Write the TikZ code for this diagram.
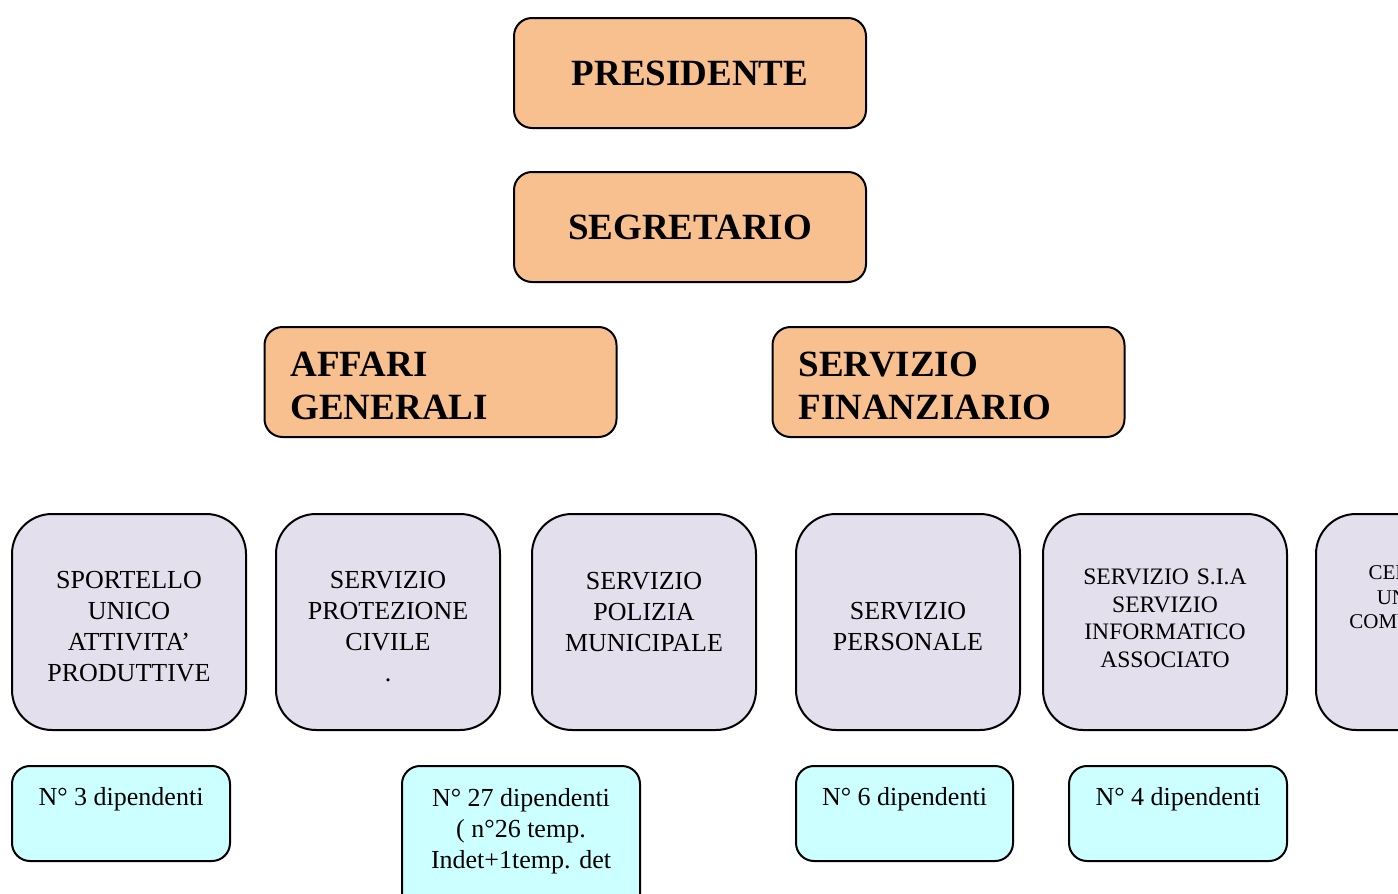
\documentclass[tikz,border=0pt]{standalone}
\usepackage{fontspec}
\setmainfont{Liberation Serif}
\definecolor{peach}{HTML}{F8C08F}
\definecolor{lilla}{HTML}{E4DFEC}
\definecolor{celeste}{HTML}{CCFFFF}
\tikzset{
  capo/.style={draw=black, line width=1pt, fill=peach, rounded corners=9pt,
    minimum width=176pt, minimum height=55pt, align=center,
    font=\fontsize{18.5}{21.5}\selectfont\bfseries},
  area/.style={capo, align=left, text width=150pt, inner xsep=13pt,
    execute at begin node=\rule{0pt}{16.5pt}},
  ufficio/.style={draw=black, line width=1pt, fill=lilla, rounded corners=20pt,
    minimum height=108pt, text width=100pt, align=center,
    font=\fontsize{13}{15.5}\selectfont,
    execute at begin node=\rule{0pt}{13.6pt}},
  conta/.style={draw=black, line width=1pt, fill=celeste, rounded corners=9pt,
    anchor=north, align=center, inner ysep=3pt, text height=16.5pt,
    font=\fontsize{13}{15.5}\selectfont}
}
\begin{document}
\begin{tikzpicture}[x=0.5pt, y=-0.5pt, line join=round]
  \useasboundingbox (0,0) rectangle (1398,894);
  \clip (0,0) rectangle (1398,894);
  % vertici
  \node[capo] (pres) at (690,73) {PRESIDENTE};
  \node[capo] (segr) at (690,227) {SEGRETARIO};
  % aree
  \node[area] (affari) at (440.5,382) {AFFARI\\GENERALI};
  \node[area] (finanz) at (948.5,382) {SERVIZIO\\FINANZIARIO};
  % uffici
  \node[ufficio, minimum width=117pt] (suap) at (129,622)
    {SPORTELLO\\UNICO\\ATTIVITA'\\PRODUTTIVE};
  \node[ufficio, minimum width=112pt] (prot) at (388,622)
    {SERVIZIO\\PROTEZIONE\\CIVILE\\.};
  \node[ufficio, minimum width=112pt] (poli) at (644,622)
    {SERVIZIO\\POLIZIA\\MUNICIPALE\\\mbox{}};
  \node[ufficio, minimum width=112pt] (pers) at (908,622)
    {SERVIZIO\\PERSONALE};
  \node[ufficio, minimum width=122pt, font=\fontsize{11.8}{13.8}\selectfont] (sia) at (1165,622)
    {SERVIZIO S.I.A\\SERVIZIO\\INFORMATICO\\ASSOCIATO\\[-4pt]\mbox{}};
  \node[ufficio, minimum width=122pt, text width=110pt, font=\fontsize{10.5}{12.3}\selectfont,
    execute at begin node={}] (ced) at (1438,622)
    {CENTRO DATI\\UNIONE DEI\\COMUNICAZIONE\\\mbox{}\\[7pt]\mbox{}};
  % dipendenti
  \node[conta, minimum width=109pt, text depth=25pt] (n3) at (121,765) {N° 3 dipendenti};
  \node[conta, minimum width=119pt, text height=48pt, text depth=50pt] (n27) at (521,765)
    {N° 27 dipendenti\\( n°26 temp.\\Indet+1temp. det};
  \node[conta, minimum width=108.5pt, text depth=25pt] (n6) at (904.5,765) {N° 6 dipendenti};
  \node[conta, minimum width=109pt, text depth=25pt] (n4) at (1178,765) {N° 4 dipendenti};
\end{tikzpicture}
\end{document}
